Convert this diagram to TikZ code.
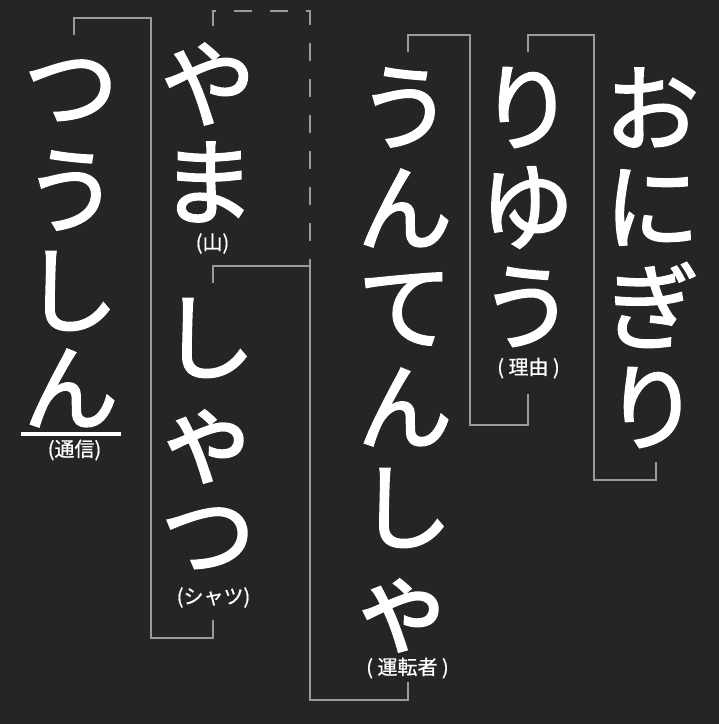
\documentclass[tikz,border=0pt]{standalone}
\usepackage{fontspec}
\newfontfamily\jpfont[FakeBold=0.8]{Noto Sans CJK JP}
\newfontfamily\jpheavy[FakeBold=2]{Noto Sans CJK JP}
\definecolor{bg}{HTML}{252525}
\definecolor{ln}{HTML}{9A9A9A}
\begin{document}
\begin{tikzpicture}[x=1pt,y=-1pt,
  kana/.style={font=\jpheavy\fontsize{95}{100}\selectfont, text=white, inner sep=0pt, outer sep=0pt},
  smallkana/.style={kana, font=\jpheavy\fontsize{102}{110}\selectfont},
  gloss/.style={font=\jpfont\fontsize{20}{24}\selectfont, text=white, inner sep=0pt, outer sep=0pt},
  bracket/.style={draw=ln, line width=2pt},
  dashbracket/.style={bracket, dash pattern=on 18pt off 18pt},
  underbar/.style={draw=white, line width=3.5pt}]
\fill[bg] (0,0) rectangle (719,724);
\useasboundingbox (0,0) rectangle (719,724);
% column 1: onigiri
\node[kana] (on1) at (652,107.5) {お};
\node[kana] (on2) at (652,207.5) {に};
\node[kana] (on3) at (652,305) {ぎ};
\node[kana] (on4) at (652,407.5) {り};
% column 2: riyuu
\node[kana] (ri1) at (527,107.5) {り};
\node[kana] (ri2) at (527,207.5) {ゆ};
\node[kana] (ri3) at (527,307) {う};
\node[gloss] (riG) at (528.5,368) {( 理由 )};
% column 3: untensha
\node[kana] (un1) at (405,107.5) {う};
\node[kana] (un2) at (405,208) {ん};
\node[kana] (un3) at (405,309) {て};
\node[kana] (un4) at (405,407) {ん};
\node[kana] (un5) at (405,508) {し};
\node[smallkana] (un6) at (403,615.5) {ゃ};
\node[gloss] (unG) at (407.5,668) {( 運転者 )};
% column 4: yama / shatsu
\node[kana] (ya1) at (208,84) {や};
\node[kana] (ya2) at (208,182) {ま};
\node[gloss] (yaG) at (212.5,243.5) {(山)};
\node[kana] (sh1) at (208,338) {し};
\node[smallkana] (sh2) at (208,446.5) {ゃ};
\node[kana] (sh3) at (208,539) {つ};
\node[gloss] (shG) at (213.5,597.5) {(シャツ)};
% column 5: tsuushin
\node[kana] (ts1) at (71,91) {つ};
\node[kana] (ts2) at (71,190.5) {う};
\node[kana] (ts3) at (71,291) {し};
\node[kana] (ts4) at (71,388) {ん};
\coordinate (ulA) at (21,434);
\coordinate (ulB) at (121,434);
\draw[underbar] (ulA) -- (ulB);
\node[gloss] (tsG) at (74.5,450) {(通信)};
% brackets
\draw[bracket] (74,35) -- (74,17.5) -- (151,17.5) -- (151,637.5) -- (213,637.5) -- (213,620);
\draw[dashbracket] (213,26) -- (213,11) -- (310,11) -- (310,266);
\draw[bracket] (213,283) -- (213,266) -- (310,266) -- (310,699.5) -- (408,699.5) -- (408,682);
\draw[bracket] (407.5,52) -- (407.5,35) -- (470,35) -- (470,424.5) -- (528,424.5) -- (528,394);
\draw[bracket] (528,52) -- (528,35) -- (594,35) -- (594,480) -- (656,480) -- (656,462);
\end{tikzpicture}
\end{document}
